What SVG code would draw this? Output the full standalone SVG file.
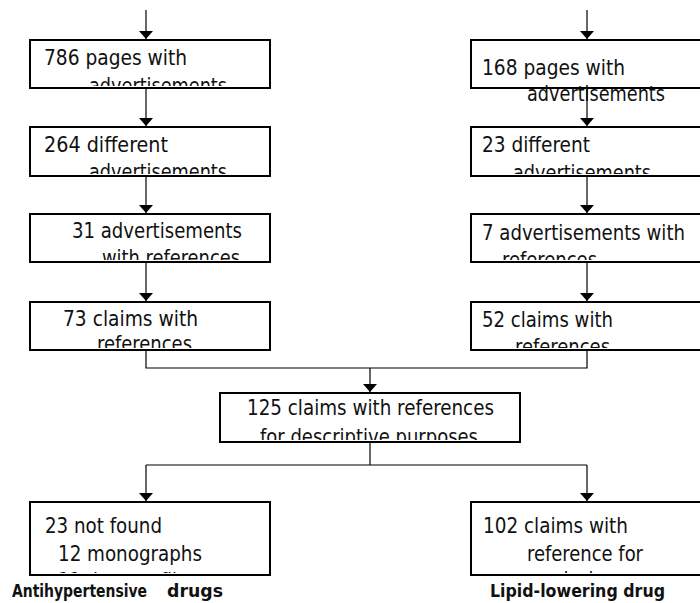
<svg xmlns="http://www.w3.org/2000/svg" width="700" height="603" viewBox="0 0 700 603">
<style>
.box{fill:#fff;stroke:#000;stroke-width:2}
.t{font-family:"DejaVu Sans Condensed","DejaVu Sans",sans-serif;font-size:22px;fill:#111}
.lbl{font-family:"DejaVu Sans Condensed","DejaVu Sans",sans-serif;font-size:18px;font-weight:bold;fill:#111}
.c{fill:none;stroke:#000;stroke-width:1.2}
</style>
<defs>
<marker id="ah" markerUnits="userSpaceOnUse" markerWidth="8" markerHeight="14" viewBox="0 0 8 14" refX="8" refY="7" orient="auto"><path d="M0,0 L8,7 L0,14 z" fill="#000"/></marker>
<clipPath id="cL1"><rect x="31" y="41" width="238" height="45"/></clipPath>
<clipPath id="cL2"><rect x="31" y="128" width="238" height="46"/></clipPath>
<clipPath id="cL3"><rect x="31" y="215" width="238" height="45"/></clipPath>
<clipPath id="cL4"><rect x="31" y="303" width="238" height="45"/></clipPath>
<clipPath id="cR2"><rect x="472" y="128" width="238" height="46"/></clipPath>
<clipPath id="cR3"><rect x="472" y="215" width="238" height="45"/></clipPath>
<clipPath id="cR4"><rect x="472" y="303" width="238" height="45"/></clipPath>
<clipPath id="cM"><rect x="221" y="394" width="298" height="46"/></clipPath>
<clipPath id="cBL"><rect x="31" y="503" width="238" height="70"/></clipPath>
<clipPath id="cBR"><rect x="472" y="503" width="238" height="70"/></clipPath>
</defs>
<rect width="700" height="603" fill="#fff"/>

<g id="n-l1"><rect class="box" x="30" y="40" width="240" height="48"/>
<g clip-path="url(#cL1)"><text class="t" x="44" y="64.5" textLength="143" lengthAdjust="spacingAndGlyphs">786 pages with</text>
<text class="t" x="89" y="92.5" textLength="138" lengthAdjust="spacingAndGlyphs">advertisements</text></g></g>
<g id="n-l2"><rect class="box" x="30" y="127" width="240" height="49"/>
<g clip-path="url(#cL2)"><text class="t" x="44" y="151.5" textLength="124" lengthAdjust="spacingAndGlyphs">264 different</text>
<text class="t" x="89" y="178.5" textLength="138" lengthAdjust="spacingAndGlyphs">advertisements</text></g></g>
<g id="n-l3"><rect class="box" x="30" y="214" width="240" height="48"/>
<g clip-path="url(#cL3)"><text class="t" x="72" y="238" textLength="170" lengthAdjust="spacingAndGlyphs">31 advertisements</text>
<text class="t" x="102" y="264.5" textLength="138" lengthAdjust="spacingAndGlyphs">with references</text></g></g>
<g id="n-l4"><rect class="box" x="30" y="302" width="240" height="48"/>
<g clip-path="url(#cL4)"><text class="t" x="63" y="325.5" textLength="135" lengthAdjust="spacingAndGlyphs">73 claims with</text>
<text class="t" x="97" y="351" textLength="95" lengthAdjust="spacingAndGlyphs">references</text></g></g>

<g id="n-r1"><rect class="box" x="471" y="40" width="240" height="48"/>
<text class="t" x="482" y="75" textLength="143" lengthAdjust="spacingAndGlyphs">168 pages with</text>
<text class="t" x="527" y="100.5" textLength="138" lengthAdjust="spacingAndGlyphs">advertisements</text></g>
<g id="n-r2"><rect class="box" x="471" y="127" width="240" height="49"/>
<g clip-path="url(#cR2)"><text class="t" x="482" y="151.5" textLength="108" lengthAdjust="spacingAndGlyphs">23 different</text>
<text class="t" x="513" y="180" textLength="138" lengthAdjust="spacingAndGlyphs">advertisements</text></g></g>
<g id="n-r3"><rect class="box" x="471" y="214" width="240" height="48"/>
<g clip-path="url(#cR3)"><text class="t" x="482" y="240" textLength="203" lengthAdjust="spacingAndGlyphs">7 advertisements with</text>
<text class="t" x="502" y="267" textLength="95" lengthAdjust="spacingAndGlyphs">references</text></g></g>
<g id="n-r4"><rect class="box" x="471" y="302" width="240" height="48"/>
<g clip-path="url(#cR4)"><text class="t" x="482" y="326.5" textLength="131" lengthAdjust="spacingAndGlyphs">52 claims with</text>
<text class="t" x="515" y="354" textLength="95" lengthAdjust="spacingAndGlyphs">references</text></g></g>

<g id="n-m"><rect class="box" x="220" y="393" width="300" height="49"/>
<g clip-path="url(#cM)"><text class="t" x="247" y="415" textLength="247" lengthAdjust="spacingAndGlyphs">125 claims with references</text>
<text class="t" x="260" y="443.5" textLength="218" lengthAdjust="spacingAndGlyphs">for descriptive purposes</text></g></g>

<g id="n-bl"><rect class="box" x="30" y="502" width="240" height="73"/>
<g clip-path="url(#cBL)"><text class="t" x="45" y="533" textLength="117" lengthAdjust="spacingAndGlyphs">23 not found</text>
<text class="t" x="58" y="560.5" textLength="144" lengthAdjust="spacingAndGlyphs">12 monographs</text>
<text class="t" x="58" y="588" textLength="130" lengthAdjust="spacingAndGlyphs">11 data on file</text></g>
<text class="lbl" x="12" y="597" textLength="135" lengthAdjust="spacingAndGlyphs">Antihypertensive</text>
<text class="lbl" x="167" y="597" textLength="56" lengthAdjust="spacingAndGlyphs">drugs</text></g>
<g id="n-br"><rect class="box" x="471" y="502" width="240" height="73"/>
<g clip-path="url(#cBR)"><text class="t" x="483" y="533" textLength="145" lengthAdjust="spacingAndGlyphs">102 claims with</text>
<text class="t" x="527" y="560.5" textLength="116" lengthAdjust="spacingAndGlyphs">reference for</text>
<text class="t" x="530" y="587" textLength="73" lengthAdjust="spacingAndGlyphs">analysis</text></g>
<text class="lbl" x="490" y="597" textLength="175" lengthAdjust="spacingAndGlyphs">Lipid-lowering drug</text></g>

<g id="connectors">
<path class="c" d="M146,10 V39" marker-end="url(#ah)"/>
<path class="c" d="M146,88 V126" marker-end="url(#ah)"/>
<path class="c" d="M146,176 V213" marker-end="url(#ah)"/>
<path class="c" d="M146,262 V301" marker-end="url(#ah)"/>
<path class="c" d="M587,10 V39" marker-end="url(#ah)"/>
<path class="c" d="M587,88 V126" marker-end="url(#ah)"/>
<path class="c" d="M587,176 V213" marker-end="url(#ah)"/>
<path class="c" d="M587,262 V301" marker-end="url(#ah)"/>
<path class="c" d="M146,350 V368 H587 V350"/>
<path class="c" d="M370,368 V392" marker-end="url(#ah)"/>
<path class="c" d="M370,442 V465"/>
<path class="c" d="M146,465 H587"/>
<path class="c" d="M146,465 V501" marker-end="url(#ah)"/>
<path class="c" d="M587,465 V501" marker-end="url(#ah)"/>
</g>
</svg>
